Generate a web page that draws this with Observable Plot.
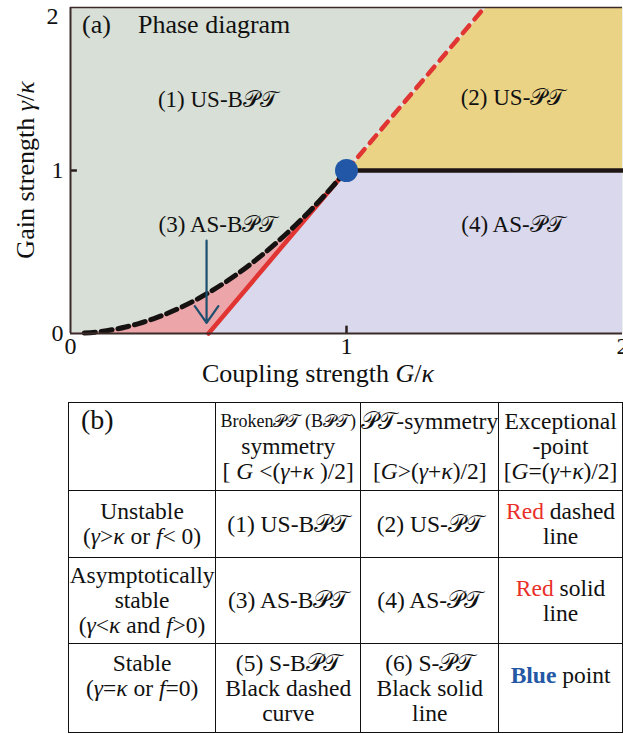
<!DOCTYPE html>
<html><head><meta charset="utf-8">
<script src="https://cdn.jsdelivr.net/npm/d3@7"></script>
<script src="https://cdn.jsdelivr.net/npm/@observablehq/plot@0.6"></script>
<style>
body{margin:0;background:#fff;width:623px;height:734px;overflow:hidden;position:relative;font-family:'Liberation Serif','Times New Roman',Times,'DejaVu Serif',serif;}
#chart{position:absolute;left:0;top:0;}
#chart svg text{font-family:'Liberation Serif','Times New Roman',Times,'DejaVu Serif',serif;}
#tbl{position:absolute;left:68px;top:402px;border-collapse:collapse;font-size:23.5px;color:#111;table-layout:fixed;}
#tbl td{border:1.5px solid #111;text-align:center;vertical-align:middle;padding:0;line-height:25px;white-space:nowrap;overflow:visible;}
#tbl td.b{vertical-align:top;text-align:left;padding-left:12px;padding-top:2px;font-size:28px;line-height:30px;}
#tbl td.h{vertical-align:top;padding-top:6px;}
.sm{font-size:18px;}
.red{color:#ea2f2b;}
.blue{color:#2457a4;font-weight:bold;}
</style>
</head><body>
<div id="chart"></div>
<table id="tbl">
<colgroup><col style="width:148px"><col style="width:151px"><col style="width:136px"><col style="width:130px"></colgroup>
<tr style="height:88px">
<td class="b">(b)</td>
<td class="h"><div class="sm">Broken𝒫𝒯 (B𝒫𝒯)</div><div>symmetry</div><div>[ <i>G</i> &lt;(<i>γ</i>+<i>κ</i> )/2]</div></td>
<td class="h"><div>𝒫𝒯-symmetry</div><div>&nbsp;</div><div>[<i>G</i>&gt;(<i>γ</i>+<i>κ</i>)/2]</div></td>
<td class="h"><div>Exceptional</div><div>-point</div><div>[<i>G</i>=(<i>γ</i>+<i>κ</i>)/2]</div></td>
</tr>
<tr style="height:67px">
<td><div>Unstable</div><div>(<i>γ</i>&gt;<i>κ</i> or <i>f</i>&lt; 0)</div></td>
<td>(1) US-B𝒫𝒯</td>
<td>(2) US-𝒫𝒯</td>
<td><div><span class="red">Red</span> dashed</div><div>line</div></td>
</tr>
<tr style="height:86px">
<td><div>Asymptotically</div><div>stable</div><div>(<i>γ</i>&lt;<i>κ</i> and <i>f</i>&gt;0)</div></td>
<td>(3) AS-B𝒫𝒯</td>
<td>(4) AS-𝒫𝒯</td>
<td><div><span class="red">Red</span> solid</div><div>line</div></td>
</tr>
<tr style="height:89px">
<td><div>Stable</div><div>(<i>γ</i>=<i>κ</i> or <i>f</i>=0)</div><div>&nbsp;</div></td>
<td><div>(5) S-B𝒫𝒯</div><div>Black dashed</div><div>curve</div></td>
<td><div>(6) S-𝒫𝒯</div><div>Black solid</div><div>line</div></td>
<td><div><span class="blue">Blue</span> point</div><div>&nbsp;</div></td>
</tr>
</table>
<script>
// ---- data ----
const xTicks = [0, 1, 2];
const yTicks = [0, 1, 2];
// black dashed curve (S-BPT boundary)
const curveG     = [0, 0.05, 0.1, 0.15, 0.2, 0.25, 0.3, 0.35, 0.4, 0.45, 0.5, 0.55, 0.6, 0.65, 0.7, 0.75, 0.8, 0.85, 0.9, 0.95, 1];
const curveGamma = [0, 0.0025, 0.01, 0.0225, 0.04, 0.0625, 0.09, 0.1225, 0.16, 0.2025, 0.25, 0.3025, 0.36, 0.4225, 0.49, 0.5625, 0.64, 0.7225, 0.81, 0.9025, 1];
// lower edge of the AS-BPT (pink) region: axis, then red solid line
const pinkLow    = [0, 0, 0, 0, 0, 0, 0, 0, 0, 0, 0, 0.1, 0.2, 0.3, 0.4, 0.5, 0.6, 0.7, 0.8, 0.9, 1];
// red solid line (exceptional points, AS)
const epSolidG = [0.5, 1], epSolidGamma = [0, 1];
// red dashed line (exceptional points, US)
const epDashG = [1, 1.5], epDashGamma = [1, 2];
// black solid line (S-PT)
const sptG = [1, 2], sptGamma = [1, 1];
// yellow US-PT region
const usptG = [1, 1.5, 2], usptLow = [1, 1, 1], usptHigh = [1, 2, 2];
// lavender AS-PT region
const asptG = [0.5, 1, 2], asptLow = [0, 0, 0], asptHigh = [0, 1, 1];
// blue point
const bluePoint = [{G: 1, gamma: 1}];
// arrow
const arrowData = [{G1: 0.493, g1: 0.57, G2: 0.493, g2: 0.065}];
// region labels
const regionLabels = [
  {G: 0.536, gamma: 1.42, pre: "(1) US-B", post: "𝒫𝒯"},
  {G: 1.605, gamma: 1.43, pre: "(2) US-", post: "𝒫𝒯"},
  {G: 0.536, gamma: 0.65, pre: "(3) AS-B", post: "𝒫𝒯"},
  {G: 1.605, gamma: 0.65, pre: "(4) AS-", post: "𝒫𝒯"}
];

const zip = (xs, ...cols) => xs.map((x, i) => ({x, a: cols[0] ? cols[0][i] : undefined, b: cols[1] ? cols[1][i] : undefined}));
const FONT = "'Liberation Serif','Times New Roman',Times,'DejaVu Serif',serif";

const W = 623, H = 395;
const chart = Plot.plot({
  width: W, height: H,
  marginLeft: 70, marginRight: 1, marginTop: 7, marginBottom: 62,
  x: {domain: [0, 2], axis: null},
  y: {domain: [0, 2], axis: null},
  style: {fontFamily: FONT, fontSize: "22px", color: "#111", background: "transparent", overflow: "visible"},
  marks: [
    Plot.frame({fill: "#d7dfd6", stroke: null}),
    Plot.areaY(zip(usptG, usptLow, usptHigh), {x: "x", y1: "a", y2: "b", fill: "#ebd385"}),
    Plot.areaY(zip(asptG, asptLow, asptHigh), {x: "x", y1: "a", y2: "b", fill: "#d9d8ec"}),
    Plot.areaY(zip(curveG, pinkLow, curveGamma), {x: "x", y1: "a", y2: "b", fill: "#eca5a8"}),
    Plot.line(zip(epDashG, epDashGamma), {x: "x", y: "a", stroke: "#e4e4e4", strokeWidth: 2}),
    Plot.line(zip(epSolidG, epSolidGamma), {x: "x", y: "a", stroke: "#e03532", strokeWidth: 4.5}),
    Plot.line(zip(epDashG, epDashGamma), {x: "x", y: "a", stroke: "#e03532", strokeWidth: 4.5, strokeDasharray: "10,8"}),
    Plot.line(zip(curveG.slice(1), curveGamma.slice(1)), {x: "x", y: "a", stroke: "#161212", strokeWidth: 5, strokeDasharray: "11,6", curve: "catmull-rom"}),
    Plot.line(zip(sptG, sptGamma), {x: "x", y: "a", stroke: "#1e1614", strokeWidth: 4.5}),
    Plot.dot(bluePoint, {x: "G", y: "gamma", r: 11.5, fill: "#2157a6", stroke: null}),
    Plot.arrow(arrowData, {x1: "G1", y1: "g1", x2: "G2", y2: "g2", stroke: "#1d4f6e", strokeWidth: 2.2, headLength: 14, headAngle: 70}),
    Plot.ruleX(xTicks.slice(1, 2), {x: d => d, y1: 0, y2: 0.045, stroke: "#2a1e1e", strokeWidth: 2.5}),
    Plot.ruleY(yTicks.slice(1, 2), {y: d => d, x1: 0, x2: 0.025, stroke: "#2a1e1e", strokeWidth: 2.5}),
    Plot.ruleY([0], {stroke: "#3a2a28", strokeWidth: 2}),
    Plot.ruleY([2], {stroke: "#3a2a28", strokeWidth: 1.5}),
    Plot.ruleX([0], {stroke: "#3a2a28", strokeWidth: 2}),
    Plot.text(xTicks, {x: d => d, frameAnchor: "bottom", dy: 20, text: d => String(d), fontSize: 24, fill: "#111"}),
    Plot.text(yTicks.slice(0, 2), {y: d => d, frameAnchor: "left", dx: -19, text: d => String(d), fontSize: 24, fill: "#111"}),
    Plot.text(yTicks.slice(2), {y: d => d, frameAnchor: "left", dx: -24, dy: 9, text: d => String(d), fontSize: 24, fill: "#111"})
  ]
});
document.getElementById("chart").appendChild(chart);

const svg = d3.select(chart);
const sx = chart.scale("x").apply, sy = chart.scale("y").apply;
function rich(x, y, parts, opts = {}) {
  const t = svg.append("text").attr("x", x).attr("y", y)
    .attr("font-family", FONT).attr("font-size", opts.size || 22)
    .attr("fill", "#111").attr("text-anchor", opts.anchor || "middle")
    .attr("dominant-baseline", "middle");
  if (opts.rotate) t.attr("transform", `rotate(${opts.rotate},${x},${y})`);
  for (const [s, it] of parts) {
    const sp = t.append("tspan").text(s);
    if (it) sp.attr("font-style", "italic");
  }
  return t;
}
for (const d of regionLabels) rich(sx(d.G), sy(d.gamma), [[d.pre, false], [d.post, false]], {size: 23});
rich(82, 27, [["(a)", false]], {size: 26, anchor: "start"});
rich(138, 27, [["Phase diagram", false]], {size: 26, anchor: "start"});
rich(318, 376, [["Coupling strength ", false], ["G", true], ["/", false], ["κ", true]], {size: 26});
rich(28, sy(1), [["Gain strength ", false], ["γ", true], ["/", false], ["κ", true]], {size: 26, rotate: -90});
</script>
</body></html>
